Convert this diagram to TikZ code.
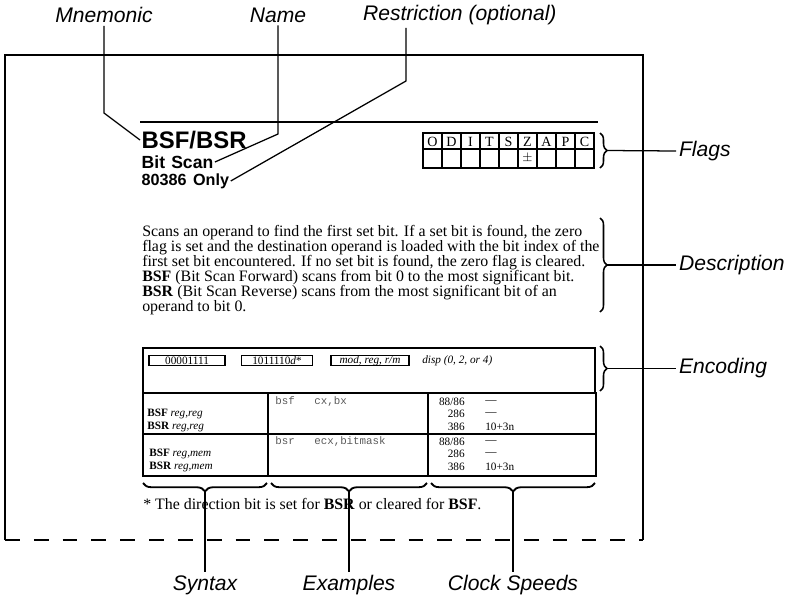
\documentclass[tikz,border=0pt]{standalone}
\usepackage{fontspec}
\setmainfont{Liberation Serif}
\setsansfont{Liberation Sans}
\setmonofont{Liberation Mono}
\usepackage{tikz}
\usetikzlibrary{decorations.pathreplacing}

\begin{document}
\begin{tikzpicture}[x=0.025cm, y=-0.025cm,
  lbl/.style={font=\sffamily\itshape\fontsize{15}{18}\selectfont, inner sep=2pt},
  lead/.style={line width=0.9pt},
  frame/.style={line width=1.4pt},
  brc/.style={decorate, decoration={brace, amplitude=5pt}, line width=1.1pt},
  bbrc/.style={decorate, decoration={brace, amplitude=6pt}, line width=1.3pt},
  small/.style={font=\fontsize{8}{9}\selectfont, inner sep=0pt},
  code/.style={font=\ttfamily\fontsize{7.7}{9}\selectfont, text=black!65, inner sep=0pt, anchor=west},
  encbox/.style={draw, line width=0.9pt, inner sep=0pt, minimum height=6.6pt, font=\fontsize{8}{8}\selectfont}]
\useasboundingbox (0,0) rectangle (797,599);

% LAYER 1: Moldura da pagina
\draw[frame] (5,540) -- (5,55) -- (643,55) -- (643,540);
\draw[frame, dash pattern=on 10.5pt off 10pt] (5,540) -- (643,540);

% LAYER 2: Cabecalho
\draw[line width=1.4pt] (140,122) -- (598,122);
\node[anchor=west, inner sep=1pt, font=\sffamily\bfseries\fontsize{17}{20}\selectfont] (bsf) at (140,140) {BSF/BSR};
\node[anchor=west, inner sep=1pt, font=\sffamily\bfseries\fontsize{12.5}{14}\selectfont] (bitscan) at (140,162) {Bit\hspace{0.35em}Scan};
\node[anchor=west, inner sep=1pt, font=\sffamily\bfseries\fontsize{11.5}{13}\selectfont] (only) at (140,181) {80386\hspace{0.4em}Only};

% LAYER 3: Tabela de flags
\draw[line width=0.8pt] (423,133) rectangle (594,168);
\draw[line width=0.8pt] (423,149) -- (594,149);
\foreach \i in {1,...,8}
  \draw[line width=0.8pt] (423+19*\i,133) -- ++(0,35);
\foreach \f [count=\i] in {O,D,I,T,S,Z,A,P,C}
  \node[font=\fontsize{10}{11}\selectfont, inner sep=0pt] (flag\i) at (413.5+19*\i,141.5) {\f};
\node[font=\fontsize{9}{10}\selectfont, inner sep=0pt] (zset) at (527.5,158.5) {$\pm$};

% LAYER 4: Descricao
\node[anchor=north west, align=left, inner sep=0pt, font=\fontsize{11.3}{10.6}\selectfont] (desc) at (142,225)
  {Scans an operand to find the first set bit. If a set bit is found, the zero\\
   flag is set and the destination operand is loaded with the bit index of the\\
   first set bit encountered. If no set bit is found, the zero flag is cleared.\\
   \textbf{BSF} (Bit Scan Forward) scans from bit 0 to the most significant bit.\\
   \textbf{BSR} (Bit Scan Reverse) scans from the most significant bit of an\\
   operand to bit 0.};

% LAYER 5: Codificacao
\draw[line width=0.9pt] (143,348) rectangle (595,393);
\node[encbox, minimum width=53.9pt] (op1) at (187,360.5) {00001111};
\node[encbox, minimum width=51pt] (op2) at (277,360.5) {1011110\textit{d}*};
\node[encbox, minimum width=55.3pt] (modrm) at (370,360.5) {\textit{mod, reg, r/m}};
\node[anchor=west, inner sep=0pt, font=\itshape\fontsize{8}{8}\selectfont] (disp) at (422,360.5) {disp (0, 2, or 4)};

% LAYER 6: Sintaxe, exemplos e ciclos
\draw[line width=0.9pt] (143,393) rectangle (596,476);
\draw[line width=0.9pt] (143,434) -- (596,434);
\draw[line width=0.9pt] (268,393) -- (268,476);
\draw[line width=0.9pt] (428,393) -- (428,476);
\node[small, anchor=west] (s1) at (147,414) {\textbf{BSF} \textit{reg,reg}};
\node[small, anchor=west] (s2) at (147,427) {\textbf{BSR} \textit{reg,reg}};
\node[small, anchor=west] (s3) at (149,454) {\textbf{BSF} \textit{reg,mem}};
\node[small, anchor=west] (s4) at (149,467) {\textbf{BSR} \textit{reg,mem}};
\node[code] (ex1) at (275,402) {bsf\ \ \ cx,bx};
\node[code] (ex2) at (275,442) {bsr\ \ \ ecx,bitmask};
\foreach \y/\cpu/\clk in {402/88\slash 86/---, 414/286/---, 427/386/10+3n,
                          442/88\slash 86/---, 454/286/---, 467/386/10+3n} {
  \node[small, anchor=east] at (465,\y) {\cpu};
  \node[small, anchor=west] at (485,\y) {\clk};
}

% LAYER 7: Nota de rodape
\node[anchor=west, inner sep=0pt, font=\fontsize{11.3}{12}\selectfont] (note) at (143,504)
  {* The direction bit is set for \textbf{BSR} or cleared for \textbf{BSF}.};

% LAYER 8: Rotulos de cima
\node[lbl] (mnem) at (104,15) {Mnemonic};
\node[lbl] (name) at (278,15) {Name};
\node[lbl, anchor=west] (restr) at (360,15) {Restriction (optional)};
\coordinate (mnembend) at (104,113);
\coordinate (namebend) at (278,134);
\coordinate (restrbend) at (406,81);
\draw[lead] (mnem.south) -- (mnembend) -- (bsf.west);
\draw[lead] (name.south) -- (namebend) -- (bitscan.east);
\draw[lead] (restr.south -| restrbend) -- (restrbend) -- (only.east);

% LAYER 9: Chaves e rotulos da direita
\draw[brc] (600,133) -- (600,168);
\draw[brc] (600,218) -- (600,312);
\draw[brc] (600,346) -- (600,391);
\coordinate (flagtip) at (607,150.5);
\coordinate (desctip) at (607,265);
\coordinate (enctip) at (607,368.5);
\node[lbl, anchor=west] (flags) at (676,151) {Flags};
\node[lbl, anchor=west] (descr) at (676,265) {Description};
\node[lbl, anchor=west] (encod) at (676,368.5) {Encoding};
\draw[lead] (flagtip) -- (flags.west);
\draw[lead] (desctip) -- (descr.west);
\draw[lead] (enctip) -- (encod.west);

% LAYER 10: Chaves e rotulos de baixo
\draw[bbrc] (267,483) -- (143,483);
\draw[bbrc] (427,483) -- (271,483);
\draw[bbrc] (595,483) -- (431,483);
\coordinate (syntip) at (205,491.5);
\coordinate (extip) at (349,491.5);
\coordinate (clktip) at (513,491.5);
\node[lbl] (syntax) at (205,585) {Syntax};
\node[lbl] (examples) at (349,585) {Examples};
\node[lbl] (clock) at (513,585) {Clock Speeds};
\draw[lead] (syntip) -- (syntax.north);
\draw[lead] (extip) -- (examples.north);
\draw[lead] (clktip) -- (clock.north);
\end{tikzpicture}
\end{document}
